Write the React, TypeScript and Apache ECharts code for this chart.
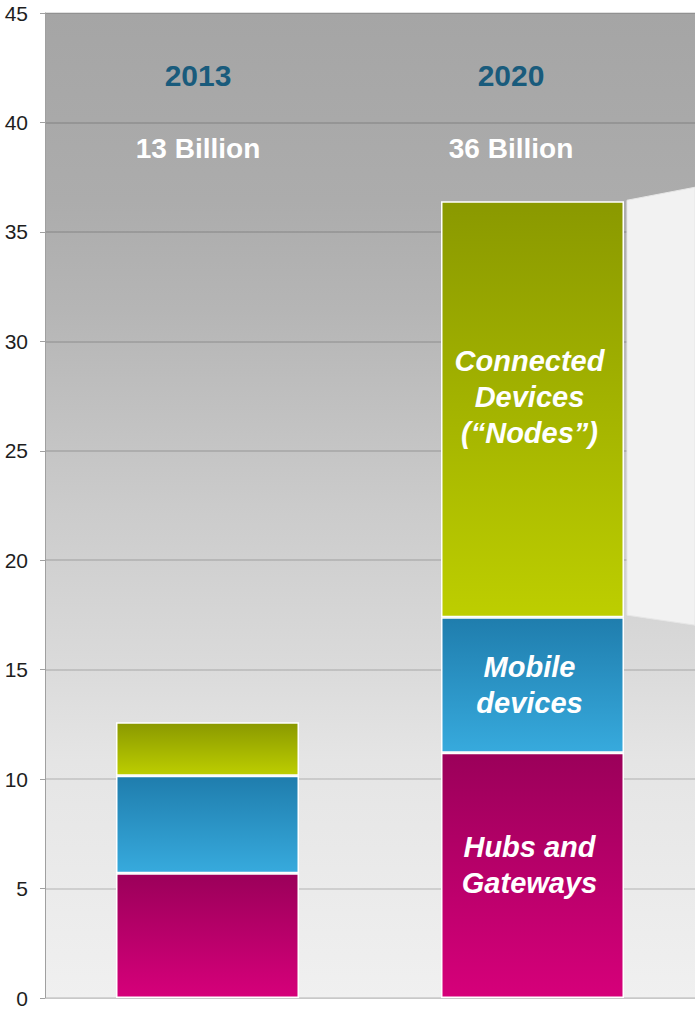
import React, { useEffect, useRef } from "react";
import * as echarts from "echarts";

const categories = ["2013", "2020"];
const hubsAndGateways = [5.7, 11.2];
const mobileDevices = [4.45, 6.2];
const connectedNodes = [2.45, 19.0];
const totalLabels = ["13 Billion", "36 Billion"];
const yTicks = { min: 0, max: 45, interval: 5 };
const segmentLabels = ["Hubs and\nGateways", "Mobile\ndevices", "Connected\nDevices\n(\u201cNodes\u201d)"];

const FONT = "'Liberation Sans', Arial, Helvetica, sans-serif";

function grad(top: string, bottom: string) {
  return new echarts.graphic.LinearGradient(0, 0, 0, 1, [
    { offset: 0, color: top },
    { offset: 1, color: bottom },
  ]);
}

export default function App() {
  const ref = useRef<HTMLDivElement>(null);
  useEffect(() => {
    document.body.style.margin = "0";
    if (!ref.current) return;
    const chart = echarts.init(ref.current, undefined, { renderer: "svg" });
    const BAR_W = 183;
    const segLabel = (text: string, offsetY: number) => ({
      show: true,
      position: "inside",
      formatter: text,
      color: "#ffffff",
      fontFamily: FONT,
      fontWeight: "bold",
      fontStyle: "italic",
      fontSize: 29,
      lineHeight: 36,
      align: "center",
      offset: [-3, offsetY],
    });
    const makeData = (arr: number[], labelText: string, offsetY: number) =>
      arr.map((v, i) => (i === 1 ? { value: v, label: segLabel(labelText, offsetY) } : { value: v }));

    chart.setOption({
      animation: false,
      grid: {
        left: 45,
        right: 0,
        top: 13,
        bottom: 14,
        show: true,
        borderWidth: 0,
        backgroundColor: new echarts.graphic.LinearGradient(0, 0, 0, 1, [
          { offset: 0, color: "#a5a5a5" },
          { offset: 0.19, color: "#acacac" },
          { offset: 0.3, color: "#b5b5b5" },
          { offset: 0.5, color: "#cbcbcb" },
          { offset: 0.66, color: "#dadada" },
          { offset: 0.76, color: "#e5e5e5" },
          { offset: 1, color: "#f0f0f0" },
        ]),
      },
      xAxis: {
        type: "category",
        data: categories,
        axisLabel: { show: false },
        axisTick: { show: false },
        axisLine: { show: true, lineStyle: { color: "#c8c8c8", width: 1 } },
      },
      yAxis: {
        type: "value",
        min: yTicks.min,
        max: yTicks.max,
        interval: yTicks.interval,
        axisLine: { show: true, lineStyle: { color: "#a0a0a0", width: 1 } },
        axisTick: { show: true, length: 5, lineStyle: { color: "#a0a0a0" } },
        axisLabel: {
          color: "#1e1e1e",
          fontFamily: FONT,
          fontSize: 21,
          margin: 17,
        },
        splitLine: { show: true, lineStyle: { color: "rgba(0,0,0,0.16)", width: 1.5 } },
      },
      series: [
        {
          type: "bar",
          stack: "total",
          barWidth: BAR_W,
          data: makeData(hubsAndGateways, segmentLabels[0], -10),
          itemStyle: { color: grad("#9b005a", "#d6007a"), borderColor: "#ffffff", borderWidth: 1.5 },
        },
        {
          type: "bar",
          stack: "total",
          barWidth: BAR_W,
          data: makeData(mobileDevices, segmentLabels[1], 0),
          itemStyle: { color: grad("#1f7dad", "#37aadd"), borderColor: "#ffffff", borderWidth: 1.5 },
        },
        {
          type: "bar",
          stack: "total",
          barWidth: BAR_W,
          data: makeData(connectedNodes, segmentLabels[2], -12),
          itemStyle: { color: grad("#8a9900", "#bdce00"), borderColor: "#ffffff", borderWidth: 1.5 },
        },
      ],
    });

    // decorative callout panel and header texts, positioned from the chart's scales
    const top2020 = hubsAndGateways[1] + mobileDevices[1] + connectedNodes[1];
    const mid2020 = hubsAndGateways[1] + mobileDevices[1];
    const yTop = chart.convertToPixel({ yAxisIndex: 0 }, top2020) as number;
    const yMid = chart.convertToPixel({ yAxisIndex: 0 }, mid2020) as number;
    const xCenter2 = chart.convertToPixel({ xAxisIndex: 0 }, 1) as number;
    const xL = xCenter2 + BAR_W / 2 + 3;
    const W = 695;
    const headerX = [198, 511];

    chart.setOption({
      graphic: [
        {
          type: "polygon",
          z: 5,
          shape: {
            points: [
              [xL, yTop - 1],
              [W, yTop - 14],
              [W, yMid + 8],
              [xL, yMid - 2],
            ],
          },
          style: { fill: "#f2f2f2", stroke: "#e6e6e6", lineWidth: 1 },
        },
        ...categories.map((c, i) => ({
          type: "text",
          z: 10,
          x: headerX[i],
          y: 75,
          style: {
            text: c,
            fill: "#195b7c",
            font: `bold 30px ${FONT}`,
            align: "center",
            verticalAlign: "middle",
          },
        })),
        ...totalLabels.map((t, i) => ({
          type: "text",
          z: 10,
          x: headerX[i],
          y: 148,
          style: {
            text: t,
            fill: "#ffffff",
            font: `bold 28px ${FONT}`,
            align: "center",
            verticalAlign: "middle",
          },
        })),
      ],
    });

    return () => chart.dispose();
  }, []);
  return <div ref={ref} style={{ width: 695, height: 1012 }} />;
}
